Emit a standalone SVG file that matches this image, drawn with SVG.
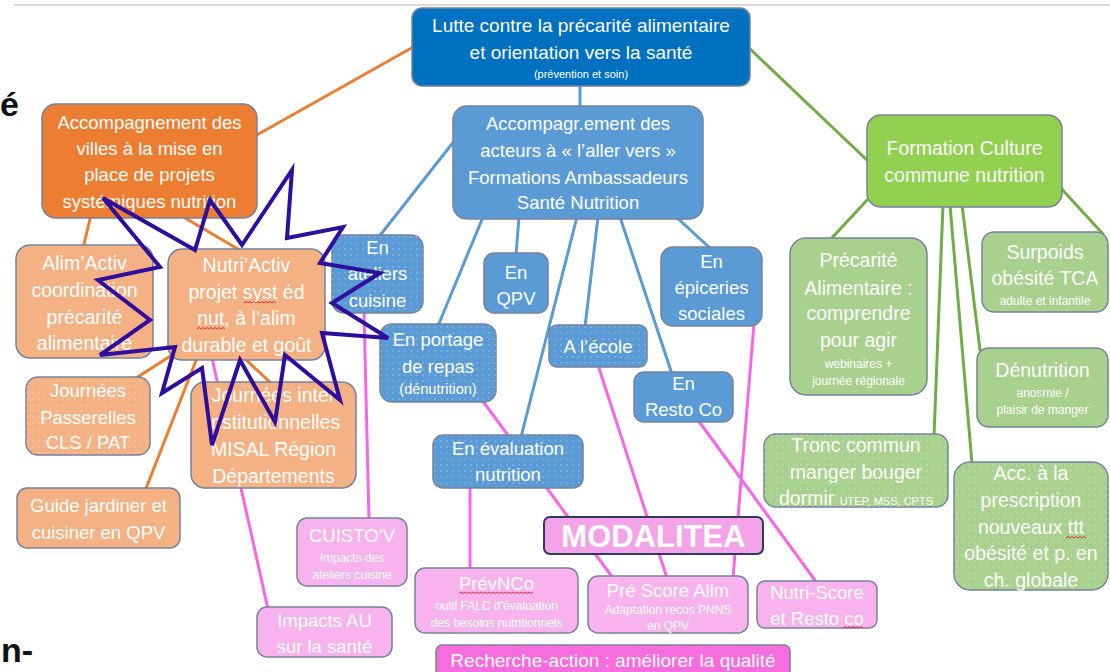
<svg xmlns="http://www.w3.org/2000/svg" width="1110" height="672" viewBox="0 0 1110 672">
<defs>
<pattern id="dots" width="6" height="6" patternUnits="userSpaceOnUse"><circle cx="3" cy="3" r="0.7" fill="#ffffff" fill-opacity="0.4"/></pattern>
<style>
text{font-family:"Liberation Sans",Arial,sans-serif;fill:#ffffff;text-anchor:middle}
.t{font-size:18.5px}
.tb{font-size:19.5px}
.s{font-size:12px}
.edge{font-size:34px;fill:#111111;text-anchor:start;font-weight:bold}
.box{stroke:#76839a;stroke-width:1.5}
.root{fill:#0070C0}
.blue{fill:#5B9BD5}
.org{fill:#ED7D31}
.lorg{fill:#F4B183}
.grn{fill:#92D050}
.lgrn{fill:#A9D18E}
.pink{fill:#F8B3EE}
.dot{fill:url(#dots);stroke:none}
.c{stroke-width:3;fill:none;stroke-linecap:round}
.co{stroke:#ED7D31}
.cb{stroke:#5B9BD5}
.cg{stroke:#70AD47}
.cp{stroke:#F766E6}
.sq{fill:none;stroke:#E0303A;stroke-width:1}
</style>
</defs>
<rect width="1110" height="672" fill="#ffffff"/>
<line x1="14" y1="5" x2="1110" y2="5" stroke="#d9d9d9" stroke-width="2"/>
<text class="edge" x="0" y="116">é</text>
<text class="edge" x="1" y="662">n-</text>

<g id="connectors">
<line class="c co" x1="415" y1="46" x2="255" y2="136"/>
<line class="c co" x1="91" y1="215" x2="83" y2="248"/>
<line class="c co" x1="180" y1="215" x2="243" y2="252"/>
<line class="c co" x1="172" y1="355" x2="133" y2="380"/>
<line class="c co" x1="197" y1="358" x2="145" y2="491"/>
<line class="c co" x1="244" y1="358" x2="273" y2="385"/>
<line class="c cb" x1="580" y1="84" x2="580" y2="108"/>
<line class="c cb" x1="455" y1="140" x2="378" y2="238"/>
<line class="c cb" x1="483" y1="217" x2="438" y2="326"/>
<line class="c cb" x1="519" y1="217" x2="516" y2="255"/>
<line class="c cb" x1="577" y1="217" x2="521" y2="437"/>
<line class="c cb" x1="598" y1="217" x2="585" y2="327"/>
<line class="c cb" x1="620" y1="217" x2="672" y2="374"/>
<line class="c cb" x1="673" y1="214" x2="711" y2="249"/>
<line class="c cg" x1="748" y1="47" x2="869" y2="162"/>
<line class="c cg" x1="869" y1="198" x2="830" y2="240"/>
<line class="c cg" x1="1058" y1="185" x2="1103" y2="234"/>
<line class="c cg" x1="943" y1="205" x2="934" y2="436"/>
<line class="c cg" x1="950" y1="205" x2="972" y2="464"/>
<line class="c cg" x1="962" y1="205" x2="980" y2="350"/>
<line class="c cp" x1="364" y1="311" x2="369" y2="520"/>
<line class="c cp" x1="212" y1="358" x2="268" y2="609"/>
<line class="c cp" x1="482" y1="400" x2="613" y2="578"/>
<line class="c cp" x1="470" y1="486" x2="470" y2="570"/>
<line class="c cp" x1="598" y1="365" x2="667" y2="578"/>
<line class="c cp" x1="754" y1="324" x2="733" y2="578"/>
<line class="c cp" x1="698" y1="420" x2="817" y2="583"/>
</g>

<g id="root">
<rect class="box root" x="412" y="8" width="338" height="78" rx="10"/>
<text x="581" y="32" style="font-size:19px">Lutte contre la précarité alimentaire</text>
<text x="581" y="59" style="font-size:19px">et orientation vers la santé</text>
<text x="581" y="78" style="font-size:11px">(prévention et soin)</text>
</g>

<g id="acteurs">
<rect class="box blue" x="453" y="106" width="250" height="113" rx="14"/>
<text class="t" x="578" y="129.5">Accompagr.ement des</text>
<text class="t" x="578" y="156.5">acteurs à « l’aller vers »</text>
<text class="t" x="578" y="183.5">Formations Ambassadeurs</text>
<text class="t" x="578" y="209">Santé Nutrition</text>
</g>

<g id="villes">
<rect class="box org" x="42" y="104" width="215" height="114" rx="14"/>
<text class="t" x="149.5" y="128.5">Accompagnement des</text>
<text class="t" x="149.5" y="154.5">villes à la mise en</text>
<text class="t" x="149.5" y="180.5">place de projets</text>
<text class="t" x="149.5" y="207.5">systémiques nutrition</text>
</g>

<g id="formation">
<rect class="box grn" x="867" y="115" width="195" height="92" rx="14"/>
<text class="tb" x="964.5" y="155">Formation Culture</text>
<text class="tb" x="964.5" y="182">commune nutrition</text>
</g>

<g id="precarite">
<rect class="box lgrn" x="790" y="238" width="137" height="157" rx="16"/>
<text class="tb" x="858.5" y="267">Précarité</text>
<text class="tb" x="858.5" y="295">Alimentaire :</text>
<text class="tb" x="858.5" y="320">comprendre</text>
<text class="tb" x="858.5" y="347">pour agir</text>
<text class="s" x="858.5" y="367.5">webinaires +</text>
<text class="s" x="858.5" y="384.5">journée régionale</text>
</g>

<g id="surpoids">
<rect class="box lgrn" x="982" y="232" width="126" height="80" rx="12"/>
<text class="tb" x="1045" y="259">Surpoids</text>
<text class="tb" x="1045" y="285">obésité TCA</text>
<text class="s" x="1045" y="304.5">adulte et infantile</text>
</g>

<g id="denutrition">
<rect class="box lgrn" x="977" y="348" width="131" height="79" rx="12"/>
<text class="tb" x="1042.5" y="377">Dénutrition</text>
<text class="s" x="1042.5" y="397">anosmie /</text>
<text class="s" x="1042.5" y="414">plaisir de manger</text>
</g>

<g id="tronc">
<rect class="box lgrn" x="764" y="434" width="184" height="73" rx="12"/>
<rect class="dot" x="764" y="434" width="184" height="73" rx="12"/>
<text class="tb" x="856" y="451.5">Tronc commun</text>
<text class="tb" x="856" y="478.5">manger bouger</text>
<text class="tb" x="856" y="504.5">dormir <tspan style="font-size:11px">UTEP, MSS, CPTS</tspan></text>
</g>

<g id="prescription">
<rect class="box lgrn" x="954" y="462" width="154" height="128" rx="16"/>
<rect class="dot" x="954" y="462" width="154" height="128" rx="16"/>
<text class="tb" x="1031" y="480">Acc. à la</text>
<text class="tb" x="1031" y="507">prescription</text>
<text class="tb" x="1031" y="534">nouveaux ttt</text>
<text class="tb" x="1031" y="560">obésité et p. en</text>
<text class="tb" x="1031" y="587">ch. globale</text>
<path class="sq" d="M1066 538 l2 -1.5 l2 1.5 l2 -1.5 l2 1.5 l2 -1.5 l2 1.5 l2 -1.5 l2 1.5 l2 -1.5 l2 1.5"/>
</g>

<g id="alimactiv">
<rect class="box lorg" x="16" y="245" width="137" height="113" rx="14"/>
<text class="tb" x="84.5" y="270">Alim’Activ</text>
<text class="tb" x="84.5" y="297">coordination</text>
<text class="tb" x="84.5" y="324">précarité</text>
<text class="tb" x="84.5" y="350">alimentaire</text>
</g>

<g id="nutriactiv">
<rect class="box lorg" x="168" y="249" width="157" height="111" rx="14"/>
<text class="tb" x="246.5" y="272">Nutri’Activ</text>
<text class="tb" x="246.5" y="299">projet syst éd</text>
<text class="tb" x="246.5" y="325">nut, à l’alim</text>
<text class="tb" x="246.5" y="352">durable et goût</text>
<path class="sq" d="M244 303 l2 -1.5 l2 1.5 l2 -1.5 l2 1.5 l2 -1.5 l2 1.5 l2 -1.5 l2 1.5 l2 -1.5 l2 1.5 l2 -1.5 l2 1.5 l2 -1.5 l2 1.5 l2 -1.5 l2 1.5"/>
<path class="sq" d="M197 329 l2 -1.5 l2 1.5 l2 -1.5 l2 1.5 l2 -1.5 l2 1.5 l2 -1.5 l2 1.5 l2 -1.5 l2 1.5 l2 -1.5 l2 1.5 l2 -1.5 l2 1.5"/>
</g>

<g id="passerelles">
<rect class="box lorg" x="26" y="377" width="124" height="78" rx="12"/>
<rect class="dot" x="26" y="377" width="124" height="78" rx="12"/>
<text class="t" x="88" y="396.5">Journées</text>
<text class="t" x="88" y="423.5">Passerelles</text>
<text class="t" x="88" y="448.5">CLS / PAT</text>
</g>

<g id="inter">
<rect class="box lorg" x="191" y="382" width="165" height="106" rx="14"/>
<text class="tb" x="273.5" y="402">Journées inter</text>
<text class="tb" x="273.5" y="429">institutionnelles</text>
<text class="tb" x="273.5" y="456">MISAL Région</text>
<text class="tb" x="273.5" y="483">Départements</text>
</g>

<g id="guide">
<rect class="box lorg" x="17" y="488" width="163" height="60" rx="10"/>
<text class="t" x="98.5" y="511.5">Guide jardiner et</text>
<text class="t" x="98.5" y="538.5">cuisiner en QPV</text>
</g>

<g id="ateliers">
<rect class="box blue" x="332" y="235" width="91" height="78" rx="12"/>
<rect class="dot" x="332" y="235" width="91" height="78" rx="12"/>
<text class="t" x="377.5" y="253.5">En</text>
<text class="t" x="377.5" y="279.5">ateliers</text>
<text class="t" x="377.5" y="306.5">cuisine</text>
</g>

<g id="qpv">
<rect class="box blue" x="484" y="253" width="64" height="60" rx="10"/>
<text class="t" x="516" y="278.5">En</text>
<text class="t" x="516" y="304.5">QPV</text>
</g>

<g id="portage">
<rect class="box blue" x="380" y="324" width="116" height="78" rx="12"/>
<rect class="dot" x="380" y="324" width="116" height="78" rx="12"/>
<text class="t" x="438" y="345.5">En portage</text>
<text class="t" x="438" y="372.5">de repas</text>
<text x="438" y="394" style="font-size:14.5px">(dénutrition)</text>
</g>

<g id="ecole">
<rect class="box blue" x="549" y="325" width="98" height="42" rx="8"/>
<rect class="dot" x="549" y="325" width="98" height="42" rx="8"/>
<text class="t" x="598" y="352.5">A l’école</text>
</g>

<g id="epiceries">
<rect class="box blue" x="661" y="247" width="101" height="79" rx="12"/>
<text class="t" x="711.5" y="267.5">En</text>
<text class="t" x="711.5" y="293.5">épiceries</text>
<text class="t" x="711.5" y="319.5">sociales</text>
</g>

<g id="restoco">
<rect class="box blue" x="634" y="372" width="99" height="50" rx="10"/>
<text class="t" x="683.5" y="389.5">En</text>
<text class="t" x="683.5" y="415.5">Resto Co</text>
</g>

<g id="evaluation">
<rect class="box blue" x="433" y="435" width="150" height="53" rx="10"/>
<rect class="dot" x="433" y="435" width="150" height="53" rx="10"/>
<text class="t" x="508" y="454.5">En évaluation</text>
<text class="t" x="508" y="480.5">nutrition</text>
</g>

<g id="cuistov">
<rect class="box pink" x="297" y="518" width="110" height="68" rx="10"/>
<text class="t" x="352" y="541.5">CUISTO’V</text>
<text class="s" x="352" y="562">Impacts des</text>
<text class="s" x="352" y="579">ateliers cuisine</text>
</g>

<g id="impactsau">
<rect class="box pink" x="257" y="607" width="135" height="50" rx="10"/>
<text class="t" x="324.5" y="626.5">Impacts AU</text>
<text class="t" x="324.5" y="652.5">sur la santé</text>
</g>

<g id="prevnco">
<rect class="box pink" x="415" y="568" width="163" height="65" rx="10"/>
<text class="t" x="496.5" y="589.5">PrévNCo</text>
<text class="s" x="496.5" y="610">outil FALC d’évaluation</text>
<text class="s" x="496.5" y="627">des besoins nutritionnels</text>
<path class="sq" d="M459 593.5 l2 -1.5 l2 1.5 l2 -1.5 l2 1.5 l2 -1.5 l2 1.5 l2 -1.5 l2 1.5 l2 -1.5 l2 1.5 l2 -1.5 l2 1.5 l2 -1.5 l2 1.5 l2 -1.5 l2 1.5 l2 -1.5 l2 1.5 l2 -1.5 l2 1.5 l2 -1.5 l2 1.5 l2 -1.5 l2 1.5 l2 -1.5 l2 1.5 l2 -1.5 l2 1.5 l2 -1.5 l2 1.5 l2 -1.5 l2 1.5 l2 -1.5 l2 1.5 l2 -1.5 l2 1.5 l2 -1.5"/>
</g>

<g id="modalitea">
<rect x="544" y="517" width="219" height="37" rx="6" fill="#F4A3E8" stroke="#2F3B5A" stroke-width="2"/>
<text x="653.5" y="547" style="font-size:31px;font-weight:bold">MODALITEA</text>
</g>

<g id="prescore">
<rect class="box pink" x="588" y="576" width="160" height="57" rx="10"/>
<text class="t" x="668" y="596.5">Pré Score Alim</text>
<text class="s" x="668" y="614">Adaptation recos PNNS</text>
<text class="s" x="668" y="630">en QPV</text>
</g>

<g id="nutriscore">
<rect class="box pink" x="757" y="581" width="120" height="47" rx="8"/>
<text class="t" x="817" y="598.5">Nutri-Score</text>
<text class="t" x="817" y="624.5">et Resto co</text>
<path class="sq" d="M843 628 l2 -1.5 l2 1.5 l2 -1.5 l2 1.5 l2 -1.5 l2 1.5 l2 -1.5 l2 1.5 l2 -1.5 l2 1.5"/>
</g>

<g id="recherche">
<rect x="436" y="645" width="354" height="40" rx="6" fill="#F76CDF" stroke="#76839a" stroke-width="1.5"/>
<text x="613" y="666.5" style="font-size:19px">Recherche-action : améliorer la qualité</text>
</g>

<g id="star">
<polygon points="292,170 287,238 343,227 320,263 380,273 332,303 388,338 322,333 340,400 285,355 275,422 240,360 212,445 202,368 162,393 175,347 100,355 150,320 98,280 160,267 103,198 195,250 210,200 242,245" fill="none" stroke="#2E0E9E" stroke-width="4" stroke-linejoin="miter"/>
</g>
</svg>
